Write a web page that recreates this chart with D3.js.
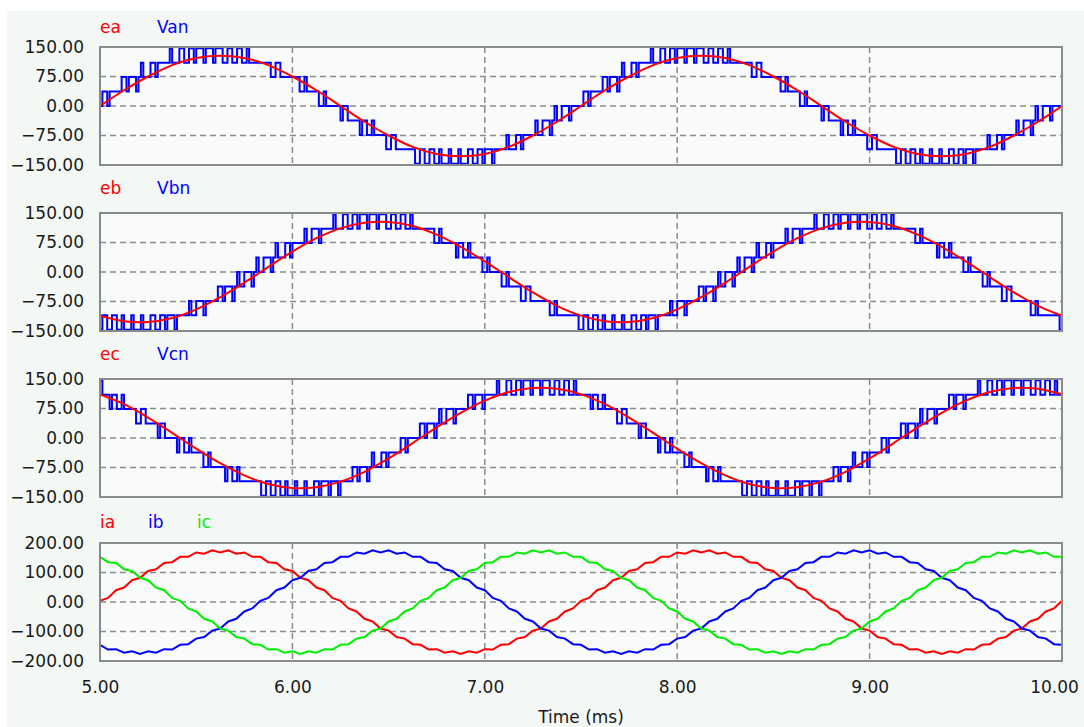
<!DOCTYPE html>
<html>
<head>
<meta charset="utf-8">
<script src="https://cdn.jsdelivr.net/npm/d3@7"></script>
<style>
body{margin:0;background:#fff}
svg{display:block}
</style>
</head>
<body>
<div id="chart"></div>
<script>
// time axis (ms) and tick values
const timeTicks=[5,6,7,8,9,10]
const vTicks=[-150,-75,0,75,150]
const iTicks=[-200,-100,0,100,200]

// inverter output levels, coded 0..8 in the strings below
const levels=[-147,-110.25,-73.5,-36.75,0,36.75,73.5,110.25,147]
const vStep=0.0125   // sample step of the stepped phase voltages (ms)
const eStep=0.125    // sample step of the back emfs (ms)
const iStep=1/24     // sample step of the currents (ms)

const ea=[0,40,75,104,122,128,122,104,75,40,0,-40,-75,-104,-122,-128,-122,-104,-75,-40,
	0,40,75,104,122,128,122,104,75,40,0,-40,-75,-104,-122,-128,-122,-104,-75,-40,0]
const eb=[-111,-125,-127,-117,-95,-64,-27,13,52,86,111,125,127,117,95,64,27,-13,-52,-86,
	-111,-125,-127,-117,-95,-64,-27,13,52,86,111,125,127,117,95,64,27,-13,-52,-86,-111]
const ec=[111,86,52,13,-27,-64,-95,-117,-127,-125,-111,-86,-52,-13,27,64,95,117,127,125,
	111,86,52,13,-27,-64,-95,-117,-127,-125,-111,-86,-52,-13,27,64,95,117,127,125,111]

const vanCode=
	'4554 5555 5665 6665 6766 6776 7777 7877 7887 7887 8887 8887 8887 7887 7887 7877 7777 7776 6776 6666 6665 5655 5554 4544 4444 '+
	'3443 3333 2332 2322 2221 1221 1111 1110 0110 0110 0100 0100 0100 0110 0110 1110 1111 1211 1221 2222 2322 3332 3433 4443 4444 '+
	'4554 5555 5665 6665 6766 6776 7777 7877 7887 7887 8887 8887 8887 7887 7887 7877 7777 7776 6776 6666 6665 5655 5554 4544 4444 '+
	'3443 3333 2332 2322 2221 1221 1111 1110 0110 0110 0100 0100 0100 0110 0110 1110 1111 1211 1221 2222 2322 3332 3433 4443 4444 5'
const vbnCode=
	'0110 0110 0100 0100 0100 0110 0110 1110 1111 1211 2221 2222 2332 3332 3433 4443 4544 5554 5655 5665 6666 6766 7776 7777 7877 '+
	'7887 7887 8887 8887 8887 7887 7887 7877 7777 7776 6766 6666 5665 5655 5554 4544 4443 3433 3332 2332 2222 2221 1211 1111 1110 '+
	'0110 0110 0100 0100 0100 0110 0110 1110 1111 1211 2221 2222 2332 3332 3433 4443 4544 5554 5655 5665 6666 6766 7776 7777 7877 '+
	'7887 7887 8887 8887 8887 7887 7887 7877 7777 7776 6766 6666 5665 5655 5554 4544 4443 3433 3332 2332 2222 2221 1211 1111 1110 0'
const vcnCode=
	'8777 6776 6766 6665 5665 5555 4554 4444 3443 3433 3332 2322 2222 1221 1211 1111 1110 0110 0110 0100 0100 0100 0110 1110 1110 '+
	'1111 1221 2221 2322 2332 3333 3443 4444 4554 5554 5655 6665 6666 6776 7776 7777 7877 7887 7887 8887 8887 8887 7887 7887 7877 '+
	'7777 6776 6766 6665 5665 5555 4554 4444 3443 3433 3332 2322 2222 1221 1211 1111 1110 0110 0110 0100 0100 0100 0110 1110 1110 '+
	'1111 1221 2221 2322 2332 3333 3443 4444 4554 5554 5655 6665 6666 6776 7776 7777 7877 7887 7887 8887 8887 8887 7887 7887 7877 7'

const ia=[4,14,40,49,74,82,105,111,132,135,153,153,168,164,175,168,175,164,168,153,
	153,135,132,111,105,82,74,49,40,14,4,-22,-32,-57,-66,-90,-97,-119,-124,-143,
	-145,-161,-160,-172,-167,-176,-167,-172,-160,-161,-145,-143,-124,-119,-97,-90,-66,-57,-32,-22,
	4,14,40,49,74,82,105,111,132,135,153,153,168,164,175,168,175,164,168,153,
	153,135,132,111,105,82,74,49,40,14,4,-22,-32,-57,-66,-90,-97,-119,-124,-143,
	-145,-161,-160,-172,-167,-176,-167,-172,-160,-161,-145,-143,-124,-119,-97,-90,-66,-57,-32,-22,4]
const ib=[-145,-161,-160,-172,-167,-176,-167,-172,-160,-161,-145,-143,-124,-119,-97,-90,-66,-57,-32,-22,
	4,14,40,49,74,82,105,111,132,135,153,153,168,164,175,168,175,164,168,153,
	153,135,132,111,105,82,74,49,40,14,4,-22,-32,-57,-66,-90,-97,-119,-124,-143,
	-145,-161,-160,-172,-167,-176,-167,-172,-160,-161,-145,-143,-124,-119,-97,-90,-66,-57,-32,-22,
	4,14,40,49,74,82,105,111,132,135,153,153,168,164,175,168,175,164,168,153,
	153,135,132,111,105,82,74,49,40,14,4,-22,-32,-57,-66,-90,-97,-119,-124,-143,-145]
const ic=[153,135,132,111,105,82,74,49,40,14,4,-22,-32,-57,-66,-90,-97,-119,-124,-143,
	-145,-161,-160,-172,-167,-176,-167,-172,-160,-161,-145,-143,-124,-119,-97,-90,-66,-57,-32,-22,
	4,14,40,49,74,82,105,111,132,135,153,153,168,164,175,168,175,164,168,153,
	153,135,132,111,105,82,74,49,40,14,4,-22,-32,-57,-66,-90,-97,-119,-124,-143,
	-145,-161,-160,-172,-167,-176,-167,-172,-160,-161,-145,-143,-124,-119,-97,-90,-66,-57,-32,-22,
	4,14,40,49,74,82,105,111,132,135,153,153,168,164,175,168,175,164,168,153,153]

const W=1084,H=727
const left=100,right=1062,ph=118
const font='"DejaVu Sans", sans-serif'

const decode=code=>code.replace(/\s/g,'').split('').map(c=>levels[+c])
const pts=(vals,step)=>vals.map((v,i)=>[5+i*step,v])

const panels=[
	{top:47,lab:33,ticks:vTicks,
	 names:[['ea','#ff0000',100],['Van','#0000ff',157]],
	 series:[
		{d:pts(decode(vanCode),vStep),c:'#0000ff',w:2,curve:d3.curveStepAfter},
		{d:pts(ea,eStep),c:'#ff0000',w:2,curve:d3.curveCatmullRom}]},
	{top:213,lab:194,ticks:vTicks,
	 names:[['eb','#ff0000',100],['Vbn','#0000ff',157]],
	 series:[
		{d:pts(decode(vbnCode),vStep),c:'#0000ff',w:2,curve:d3.curveStepAfter},
		{d:pts(eb,eStep),c:'#ff0000',w:2,curve:d3.curveCatmullRom}]},
	{top:379,lab:360,ticks:vTicks,
	 names:[['ec','#ff0000',100],['Vcn','#0000ff',157]],
	 series:[
		{d:pts(decode(vcnCode),vStep),c:'#0000ff',w:2,curve:d3.curveStepAfter},
		{d:pts(ec,eStep),c:'#ff0000',w:2,curve:d3.curveCatmullRom}]},
	{top:543,lab:528,ticks:iTicks,
	 names:[['ia','#ff0000',100],['ib','#0000ff',148],['ic','#00ee00',197]],
	 series:[
		{d:pts(ia,iStep),c:'#ff0000',w:2,curve:d3.curveLinear},
		{d:pts(ib,iStep),c:'#0000ff',w:2,curve:d3.curveLinear},
		{d:pts(ic,iStep),c:'#00ee00',w:2,curve:d3.curveLinear}]}
]

const svg=d3.select('#chart').append('svg')
	.attr('width',W)
	.attr('height',H)

svg.append('rect').attr('width',W).attr('height',H).attr('fill','#ffffff')
svg.append('rect')
	.attr('x',7).attr('y',11)
	.attr('width',W-7).attr('height',H-11)
	.attr('fill','#f3f8f4')

const x=d3.scaleLinear()
	.domain([5,10])
	.range([left,right])

panels.forEach((p,pi)=>{
	const ext=d3.extent(p.ticks)
	const y=d3.scaleLinear()
		.domain(ext)
		.range([p.top+ph,p.top])

	const g=svg.append('g')

	g.append('rect')
		.attr('x',left).attr('y',p.top)
		.attr('width',right-left).attr('height',ph)
		.attr('fill','#f8fbf9')

	// dashed grid
	g.selectAll('.hgrid')
		.data(p.ticks.filter(t=>t>ext[0]&&t<ext[1]))
		.enter().append('line')
		.attr('x1',left).attr('x2',right)
		.attr('y1',d=>y(d)).attr('y2',d=>y(d))
	g.selectAll('.vgrid')
		.data(timeTicks.slice(1,-1))
		.enter().append('line')
		.attr('x1',d=>x(d)).attr('x2',d=>x(d))
		.attr('y1',p.top).attr('y2',p.top+ph)
	g.selectAll('line')
		.attr('stroke','#8c8c8c')
		.attr('stroke-width',1.5)
		.attr('stroke-dasharray','6,4')

	const clipId='clip'+pi
	svg.append('clipPath').attr('id',clipId)
		.append('rect')
		.attr('x',left).attr('y',p.top-1)
		.attr('width',right-left).attr('height',ph+2)

	p.series.forEach(s=>{
		const line=d3.line()
			.x(d=>x(d[0]))
			.y(d=>y(d[1]))
			.curve(s.curve)
		g.append('path')
			.datum(s.d)
			.attr('d',line)
			.attr('fill','none')
			.attr('stroke',s.c)
			.attr('stroke-width',s.w)
			.attr('clip-path','url(#'+clipId+')')
	})

	g.append('rect')
		.attr('x',left).attr('y',p.top)
		.attr('width',right-left).attr('height',ph)
		.attr('fill','none')
		.attr('stroke','#8a8a8a')
		.attr('stroke-width',2)

	const yAxis=d3.axisLeft(y)
		.tickValues(p.ticks)
		.tickFormat(d3.format('.2f'))
		.tickSize(0)
		.tickPadding(16)
	g.append('g')
		.attr('transform','translate('+left+',0)')
		.call(yAxis)
		.call(a=>a.select('.domain').remove())
		.attr('font-size',17)
		.attr('font-family',font)
		.selectAll('text').attr('fill','#1a1a1a')

	g.selectAll('.name')
		.data(p.names)
		.enter().append('text')
		.attr('x',d=>d[2])
		.attr('y',p.lab)
		.attr('fill',d=>d[1])
		.attr('font-size',17)
		.attr('font-family',font)
		.text(d=>d[0])

	if(pi===panels.length-1){
		const xAxis=d3.axisBottom(x)
			.tickValues(timeTicks)
			.tickFormat(d3.format('.2f'))
			.tickSize(0)
			.tickPadding(20)
		g.append('g')
			.attr('transform','translate(0,'+(p.top+ph)+')')
			.call(xAxis)
			.call(a=>a.select('.domain').remove())
			.attr('font-size',17)
			.attr('font-family',font)
			.selectAll('text')
			.attr('fill','#1a1a1a')
			.attr('dx',d=>d===10?-8:0)
	}
})

svg.append('text')
	.attr('x',(left+right)/2)
	.attr('y',723)
	.attr('text-anchor','middle')
	.attr('font-size',17)
	.attr('font-family',font)
	.attr('fill','#1a1a1a')
	.text('Time (ms)')
</script>
</body>
</html>
